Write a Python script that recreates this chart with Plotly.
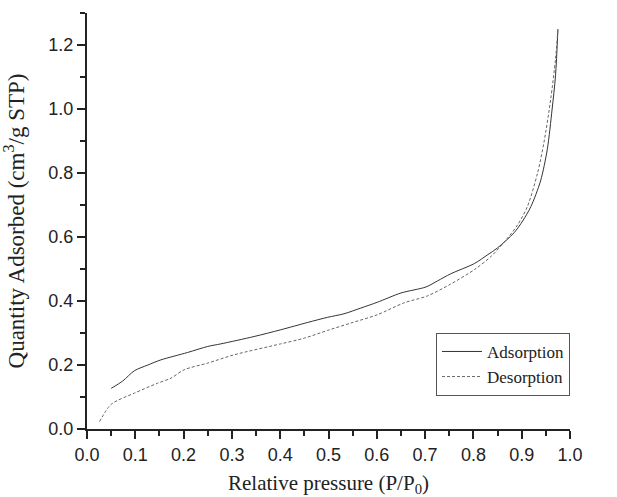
import plotly.graph_objects as go

ads_x = [0.050, 0.074, 0.098, 0.126, 0.153, 0.208, 0.250, 0.277, 0.346, 0.401, 0.457, 0.498,
         0.532, 0.567, 0.601, 0.650, 0.702, 0.726, 0.753, 0.802, 0.830, 0.850, 0.884, 0.902,
         0.919, 0.939, 0.953, 0.963, 0.970, 0.975]
ads_y = [0.127, 0.150, 0.182, 0.200, 0.216, 0.239, 0.258, 0.266, 0.289, 0.310, 0.333, 0.349,
         0.360, 0.378, 0.396, 0.425, 0.444, 0.463, 0.485, 0.517, 0.545, 0.566, 0.613, 0.650,
         0.695, 0.775, 0.874, 1.000, 1.104, 1.250]

des_x = [0.026, 0.050, 0.098, 0.146, 0.174, 0.201, 0.250, 0.305, 0.401, 0.450, 0.498, 0.546,
         0.601, 0.656, 0.705, 0.753, 0.802, 0.837, 0.871, 0.892, 0.912, 0.933, 0.946, 0.960,
         0.970, 0.975]
des_y = [0.023, 0.077, 0.112, 0.143, 0.159, 0.185, 0.206, 0.232, 0.266, 0.284, 0.308, 0.331,
         0.357, 0.394, 0.416, 0.453, 0.498, 0.540, 0.597, 0.639, 0.696, 0.801, 0.895, 1.030,
         1.156, 1.250]

fig = go.Figure()
fig.add_trace(go.Scatter(x=ads_x, y=ads_y, mode="lines", name="Adsorption",
                         line=dict(color="#333333", width=1, shape="spline", smoothing=0.8)))
fig.add_trace(go.Scatter(x=des_x, y=des_y, mode="lines", name="Desorption",
                         line=dict(color="#666666", width=1, dash="3px,2px", shape="spline", smoothing=0.8)))

tickfont = dict(family="Liberation Sans, Arial", size=18, color="#222222")
xtitlefont = dict(family="Liberation Serif, Times New Roman", size=21, color="#222222")
ytitlefont = dict(family="Liberation Serif, Times New Roman", size=23, color="#222222")

fig.update_layout(
    width=617, height=497,
    margin=dict(l=87, r=47, t=13, b=68),
    paper_bgcolor="white", plot_bgcolor="white",
    showlegend=True,
    legend=dict(x=1, xanchor="right", y=0.231, yanchor="top",
                bordercolor="#555555", borderwidth=1, bgcolor="white",
                font=dict(family="Liberation Serif, Times New Roman", size=17, color="#222222"),
                tracegroupgap=0, itemwidth=40),
    xaxis=dict(range=[0, 1.0], dtick=0.1, tick0=0, tickformat=".1f", automargin=False,
               showgrid=False, zeroline=False, showline=True, linecolor="#222222", linewidth=2,
               ticks="outside", ticklen=8, tickwidth=1.5, tickcolor="#222222",
               minor=dict(dtick=0.05, ticks="outside", ticklen=5, tickwidth=1.5, tickcolor="#222222"),
               tickfont=tickfont,
               title=dict(text="Relative pressure (P/P<sub>0</sub>)", font=xtitlefont, standoff=12)),
    yaxis=dict(range=[0, 1.3], dtick=0.2, tick0=0, tickformat=".1f", automargin=False,
               showgrid=False, zeroline=False, showline=True, linecolor="#222222", linewidth=2,
               ticks="outside", ticklen=8, tickwidth=1.5, tickcolor="#222222",
               minor=dict(dtick=0.1, ticks="outside", ticklen=5, tickwidth=1.5, tickcolor="#222222"),
               tickfont=tickfont,
               title=dict(text="Quantity Adsorbed (cm<sup>3</sup>/g STP)", font=ytitlefont, standoff=18)),
)

fig.write_html("out.html")
